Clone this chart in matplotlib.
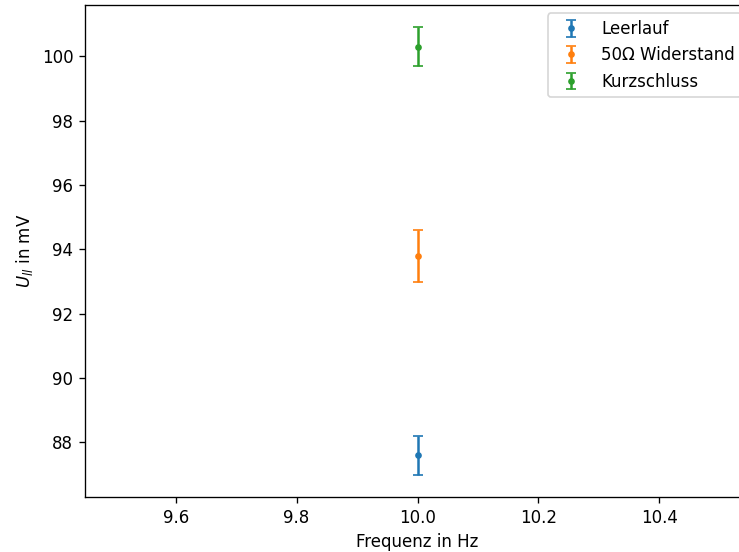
import matplotlib
matplotlib.use("Agg")
import matplotlib.pyplot as plt

labels = ["Leerlauf", "50Ω Widerstand", "Kurzschluss"]
freq = [10.0, 10.0, 10.0]
values = [87.6, 93.8, 100.3]
errors = [0.6, 0.8, 0.6]

DPI = 120
fig = plt.figure(figsize=(739 / DPI, 552 / DPI), dpi=DPI)
ax = fig.add_axes([85/739, 1 - 497/552, (750 - 85)/739, (497 - 5)/552])
for f, v, e, l in zip(freq, values, errors, labels):
    ax.errorbar([f], [v], yerr=[e], fmt='.', capsize=3, label=l)
ax.set_xlabel("Frequenz in Hz")
ax.set_ylabel(r"$U_{ll}$ in mV")
ax.legend(loc="upper right")
fig.savefig("out.png", dpi=DPI)
